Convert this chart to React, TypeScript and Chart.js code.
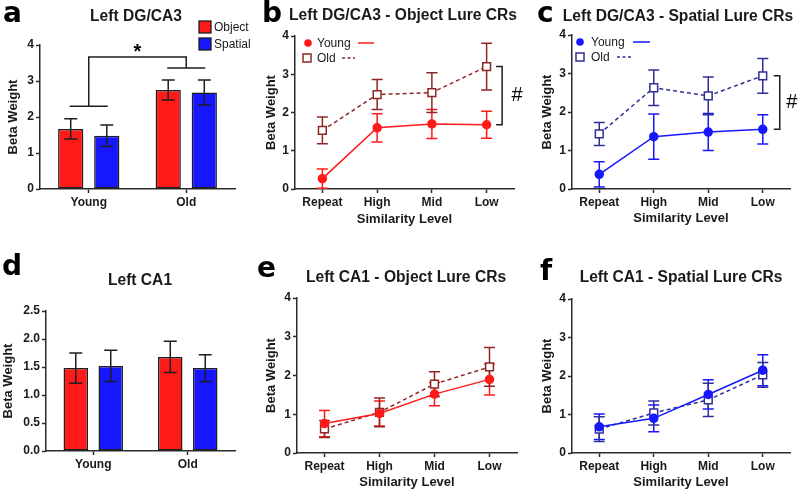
import React, { useEffect, useRef } from 'react';
import { Chart, registerables } from 'chart.js';

Chart.register(...registerables);

const FONT = "'Liberation Sans', Arial, Helvetica, sans-serif";
const LETTER_FONT = "'DejaVu Sans', 'Liberation Sans', sans-serif";
const AXIS = '#2b2b2b';
const TXT = '#1a1a1a';
const RED = '#ff1a1a';
const DARK_RED = '#8f2626';
const BLUE = '#1717ff';
const DARK_BLUE = '#2f2f98';
const ERR_BLACK = '#1e1e1e';

// ---------------- data ----------------
const groups = ['Young', 'Old'];
const similarityLevels = ['Repeat', 'High', 'Mid', 'Low'];

// (a) Left DG/CA3
const dgObject = [1.67, 2.75];
const dgObjectErr = [0.28, 0.28];
const dgSpatial = [1.48, 2.68];
const dgSpatialErr = [0.3, 0.35];
const dgSigYoung = 2.3;
const dgSigTop = 3.67;
const dgSigOld = 3.36;

// (b) Left DG/CA3 - Object Lure CRs
const dgObjYoung = [0.27, 1.6, 1.7, 1.68];
const dgObjYoungErr = [0.25, 0.37, 0.38, 0.35];
const dgObjOld = [1.53, 2.47, 2.52, 3.2];
const dgObjOldErr = [0.35, 0.39, 0.52, 0.61];

// (c) Left DG/CA3 - Spatial Lure CRs
const dgSpaYoung = [0.38, 1.36, 1.48, 1.55];
const dgSpaYoungErr = [0.33, 0.59, 0.48, 0.38];
const dgSpaOld = [1.43, 2.63, 2.42, 2.94];
const dgSpaOldErr = [0.3, 0.46, 0.49, 0.45];

// (d) Left CA1
const ca1Object = [1.48, 1.68];
const ca1ObjectErr = [0.27, 0.28];
const ca1Spatial = [1.52, 1.48];
const ca1SpatialErr = [0.28, 0.24];

// (e) Left CA1 - Object Lure CRs
const ca1ObjYoung = [0.76, 1.02, 1.52, 1.9];
const ca1ObjYoungErr = [0.34, 0.32, 0.3, 0.4];
const ca1ObjOld = [0.62, 1.05, 1.78, 2.22];
const ca1ObjOldErr = [0.22, 0.37, 0.32, 0.5];

// (f) Left CA1 - Spatial Lure CRs
const ca1SpaYoung = [0.68, 0.9, 1.52, 2.15];
const ca1SpaYoungErr = [0.33, 0.35, 0.38, 0.4];
const ca1SpaOld = [0.62, 1.04, 1.38, 2.03];
const ca1SpaOldErr = [0.32, 0.31, 0.43, 0.32];

// ---------------- types ----------------
type Series = {
  label: string;
  data: number[];
  err: number[];
  color: string;
  errColor: string;
  dashed?: boolean;
  marker?: 'circle' | 'square';
};

type BoxLegend = { x: number; y: number; size: number; color: string; text: string }[];
type LineLegend = {
  marker: 'circle' | 'square';
  mx: number;
  my: number;
  tx: number;
  l0: number;
  l1: number;
  dashed: boolean;
  color: string;
  text: string;
}[];

type PanelSpec = {
  kind: 'bar' | 'line';
  cell: { x: number; y: number; w: number; h: number };
  area: { l: number; r: number; t: number; b: number };
  yTitleX: number;
  xTitleY?: number;
  yMax: number;
  yStep: number;
  yDecimals: number;
  labels: string[];
  letter: { text: string; x: number; y: number };
  title: { text: string; x: number; y: number };
  series: Series[];
  cap: number;
  boxLegend?: BoxLegend;
  lineLegend?: LineLegend;
  barSig?: { young: number; top: number; old: number; halfWidth: number };
  hashBracket?: { upper: number; lower: number; index: number; dx: number; tick: number; hashDx: number };
};

// ---------------- panels ----------------
const panels: PanelSpec[] = [
  {
    kind: 'bar',
    cell: { x: 0, y: 0, w: 262, h: 245 },
    area: { l: 40, r: 235, t: 45, b: 189 },
    yTitleX: 13,
    yMax: 4,
    yStep: 1,
    yDecimals: 0,
    labels: groups,
    letter: { text: 'a', x: 3, y: 22 },
    title: { text: 'Left DG/CA3', x: 136, y: 21 },
    series: [
      { label: 'Object', data: dgObject, err: dgObjectErr, color: RED, errColor: ERR_BLACK },
      { label: 'Spatial', data: dgSpatial, err: dgSpatialErr, color: BLUE, errColor: ERR_BLACK },
    ],
    cap: 13,
    boxLegend: [
      { x: 199, y: 21, size: 12, color: RED, text: 'Object' },
      { x: 199, y: 38, size: 12, color: BLUE, text: 'Spatial' },
    ],
    barSig: { young: dgSigYoung, top: dgSigTop, old: dgSigOld, halfWidth: 19 },
  },
  {
    kind: 'line',
    cell: { x: 262, y: 0, w: 265, h: 245 },
    area: { l: 295, r: 514, t: 36, b: 189 },
    yTitleX: 271,
    xTitleY: 219,
    yMax: 4,
    yStep: 1,
    yDecimals: 0,
    labels: similarityLevels,
    letter: { text: 'b', x: 262, y: 22 },
    title: { text: 'Left DG/CA3 - Object Lure CRs', x: 403, y: 20 },
    series: [
      { label: 'Young', data: dgObjYoung, err: dgObjYoungErr, color: RED, errColor: RED, marker: 'circle' },
      { label: 'Old', data: dgObjOld, err: dgObjOldErr, color: DARK_RED, errColor: DARK_RED, dashed: true, marker: 'square' },
    ],
    cap: 11,
    lineLegend: [
      { marker: 'circle', mx: 308, my: 43, tx: 317, l0: 358, l1: 374, dashed: false, color: RED, text: 'Young' },
      { marker: 'square', mx: 307, my: 58, tx: 317, l0: 342, l1: 355, dashed: true, color: DARK_RED, text: 'Old' },
    ],
    hashBracket: { upper: 1, lower: 0, index: 3, dx: 15.5, tick: 6, hashDx: 15 },
  },
  {
    kind: 'line',
    cell: { x: 527, y: 0, w: 273, h: 245 },
    area: { l: 572, r: 790, t: 35, b: 189 },
    yTitleX: 547,
    xTitleY: 218,
    yMax: 4,
    yStep: 1,
    yDecimals: 0,
    labels: similarityLevels,
    letter: { text: 'c', x: 537, y: 22 },
    title: { text: 'Left DG/CA3 - Spatial Lure CRs', x: 678, y: 21 },
    series: [
      { label: 'Young', data: dgSpaYoung, err: dgSpaYoungErr, color: BLUE, errColor: BLUE, marker: 'circle' },
      { label: 'Old', data: dgSpaOld, err: dgSpaOldErr, color: DARK_BLUE, errColor: DARK_BLUE, dashed: true, marker: 'square' },
    ],
    cap: 11,
    lineLegend: [
      { marker: 'circle', mx: 580, my: 42, tx: 591, l0: 633, l1: 650, dashed: false, color: BLUE, text: 'Young' },
      { marker: 'square', mx: 580, my: 57, tx: 591, l0: 617, l1: 632, dashed: true, color: DARK_BLUE, text: 'Old' },
    ],
    hashBracket: { upper: 1, lower: 0, index: 3, dx: 17, tick: 6, hashDx: 12 },
  },
  {
    kind: 'bar',
    cell: { x: 0, y: 245, w: 255, h: 245 },
    area: { l: 46, r: 235, t: 311, b: 451 },
    yTitleX: 8,
    yMax: 2.5,
    yStep: 0.5,
    yDecimals: 1,
    labels: groups,
    letter: { text: 'd', x: 2, y: 275 },
    title: { text: 'Left CA1', x: 140, y: 285 },
    series: [
      { label: 'Object', data: ca1Object, err: ca1ObjectErr, color: RED, errColor: ERR_BLACK },
      { label: 'Spatial', data: ca1Spatial, err: ca1SpatialErr, color: BLUE, errColor: ERR_BLACK },
    ],
    cap: 13,
  },
  {
    kind: 'line',
    cell: { x: 255, y: 245, w: 272, h: 245 },
    area: { l: 297, r: 517, t: 298, b: 453 },
    yTitleX: 271,
    xTitleY: 482,
    yMax: 4,
    yStep: 1,
    yDecimals: 0,
    labels: similarityLevels,
    letter: { text: 'e', x: 257, y: 277 },
    title: { text: 'Left CA1 - Object Lure CRs', x: 406, y: 282 },
    series: [
      { label: 'Young', data: ca1ObjYoung, err: ca1ObjYoungErr, color: RED, errColor: RED, marker: 'circle' },
      { label: 'Old', data: ca1ObjOld, err: ca1ObjOldErr, color: DARK_RED, errColor: DARK_RED, dashed: true, marker: 'square' },
    ],
    cap: 11,
  },
  {
    kind: 'line',
    cell: { x: 527, y: 245, w: 273, h: 245 },
    area: { l: 572, r: 790, t: 299, b: 453 },
    yTitleX: 547,
    xTitleY: 482,
    yMax: 4,
    yStep: 1,
    yDecimals: 0,
    labels: similarityLevels,
    letter: { text: 'f', x: 540, y: 280 },
    title: { text: 'Left CA1 - Spatial Lure CRs', x: 681, y: 282 },
    series: [
      { label: 'Young', data: ca1SpaYoung, err: ca1SpaYoungErr, color: BLUE, errColor: BLUE, marker: 'circle' },
      { label: 'Old', data: ca1SpaOld, err: ca1SpaOldErr, color: DARK_BLUE, errColor: DARK_BLUE, dashed: true, marker: 'square' },
    ],
    cap: 11,
  },
];

// ---------------- drawing helpers ----------------
function drawErrors(chart: any, spec: PanelSpec) {
  const ctx: CanvasRenderingContext2D = chart.ctx;
  const y = chart.scales.y;
  spec.series.forEach((s, i) => {
    const meta = chart.getDatasetMeta(i);
    ctx.save();
    ctx.strokeStyle = s.errColor;
    ctx.lineWidth = 1.5;
    ctx.setLineDash([]);
    meta.data.forEach((el: any, j: number) => {
      const x = el.x;
      const v = s.data[j];
      const e = s.err[j];
      const yt = y.getPixelForValue(v + e);
      const yb = y.getPixelForValue(Math.max(0, v - e));
      const hw = spec.cap / 2;
      ctx.beginPath();
      ctx.moveTo(x, yt);
      ctx.lineTo(x, yb);
      ctx.moveTo(x - hw, yt);
      ctx.lineTo(x + hw, yt);
      ctx.moveTo(x - hw, yb);
      ctx.lineTo(x + hw, yb);
      ctx.stroke();
    });
    ctx.restore();
  });
}

function drawDecor(chart: any, spec: PanelSpec) {
  const ctx: CanvasRenderingContext2D = chart.ctx;
  const ox = spec.cell.x;
  const oy = spec.cell.y;
  const yScale = chart.scales.y;
  ctx.save();
  ctx.setLineDash([]);

  // panel letter
  ctx.fillStyle = '#000';
  ctx.textAlign = 'left';
  ctx.textBaseline = 'alphabetic';
  ctx.font = `bold 28px ${LETTER_FONT}`;
  ctx.fillText(spec.letter.text, spec.letter.x - ox, spec.letter.y - oy);

  // title
  ctx.textAlign = 'center';
  ctx.font = `bold 15.6px ${FONT}`;
  ctx.fillStyle = TXT;
  ctx.fillText(spec.title.text, spec.title.x - ox, spec.title.y - oy);

  // box legend
  if (spec.boxLegend) {
    ctx.font = `12px ${FONT}`;
    ctx.textAlign = 'left';
    ctx.textBaseline = 'middle';
    spec.boxLegend.forEach((it) => {
      ctx.fillStyle = it.color;
      ctx.fillRect(it.x - ox, it.y - oy, it.size, it.size);
      ctx.strokeStyle = ERR_BLACK;
      ctx.lineWidth = 1.3;
      ctx.strokeRect(it.x - ox, it.y - oy, it.size, it.size);
      ctx.fillStyle = TXT;
      ctx.fillText(it.text, it.x - ox + it.size + 3, it.y - oy + it.size / 2 + 0.5);
    });
  }

  // line legend
  if (spec.lineLegend) {
    ctx.font = `12px ${FONT}`;
    ctx.textAlign = 'left';
    ctx.textBaseline = 'middle';
    spec.lineLegend.forEach((it) => {
      const mx = it.mx - ox;
      const my = it.my - oy;
      ctx.lineWidth = 1.5;
      ctx.strokeStyle = it.color;
      ctx.fillStyle = it.color;
      if (it.marker === 'circle') {
        ctx.beginPath();
        ctx.arc(mx, my, 3.8, 0, Math.PI * 2);
        ctx.fill();
      } else {
        ctx.fillStyle = '#fff';
        ctx.fillRect(mx - 4, my - 4, 8, 8);
        ctx.strokeRect(mx - 4, my - 4, 8, 8);
      }
      ctx.fillStyle = TXT;
      ctx.fillText(it.text, it.tx - ox, my + 0.5);
      ctx.beginPath();
      ctx.setLineDash(it.dashed ? [3, 2.5] : []);
      ctx.moveTo(it.l0 - ox, my);
      ctx.lineTo(it.l1 - ox, my);
      ctx.stroke();
      ctx.setLineDash([]);
    });
  }

  // significance bracket for bar chart
  if (spec.barSig) {
    const m0 = chart.getDatasetMeta(0);
    const m1 = chart.getDatasetMeta(1);
    const c0 = (m0.data[0].x + m1.data[0].x) / 2;
    const c1 = (m0.data[1].x + m1.data[1].x) / 2;
    const yY = yScale.getPixelForValue(spec.barSig.young);
    const yT = yScale.getPixelForValue(spec.barSig.top);
    const yO = yScale.getPixelForValue(spec.barSig.old);
    const hw = spec.barSig.halfWidth;
    ctx.strokeStyle = ERR_BLACK;
    ctx.lineWidth = 1.5;
    ctx.beginPath();
    ctx.moveTo(c0 - hw, yY);
    ctx.lineTo(c0 + hw, yY);
    ctx.moveTo(c0, yY);
    ctx.lineTo(c0, yT);
    ctx.lineTo(c1, yT);
    ctx.lineTo(c1, yO);
    ctx.moveTo(c1 - hw, yO);
    ctx.lineTo(c1 + hw, yO);
    ctx.stroke();
    ctx.fillStyle = '#000';
    ctx.textAlign = 'center';
    ctx.textBaseline = 'alphabetic';
    ctx.font = `bold 20px ${FONT}`;
    ctx.fillText('*', (c0 + c1) / 2, yT + 1);
  }

  // "#" bracket for line charts
  if (spec.hashBracket) {
    const hb = spec.hashBracket;
    const up = chart.getDatasetMeta(hb.upper).data[hb.index];
    const lo = chart.getDatasetMeta(hb.lower).data[hb.index];
    const xv = up.x + hb.dx;
    ctx.strokeStyle = ERR_BLACK;
    ctx.lineWidth = 1.5;
    ctx.beginPath();
    ctx.moveTo(xv - hb.tick, up.y);
    ctx.lineTo(xv, up.y);
    ctx.lineTo(xv, lo.y);
    ctx.lineTo(xv - hb.tick, lo.y);
    ctx.stroke();
    ctx.fillStyle = '#000';
    ctx.textAlign = 'center';
    ctx.textBaseline = 'middle';
    ctx.font = `20px ${FONT}`;
    ctx.fillText('#', xv + hb.hashDx, (up.y + lo.y) / 2);
  }
  ctx.restore();
}

function buildConfig(spec: PanelSpec): any {
  const LH = 13 * 1.2;
  const padLeft = spec.yTitleX - LH / 2 - spec.cell.x;
  const yWidth = spec.area.l - spec.cell.x - padLeft;
  const xHeight = spec.xTitleY !== undefined ? spec.xTitleY + LH / 2 - spec.area.b : 26;
  const padding = {
    left: padLeft,
    right: spec.cell.x + spec.cell.w - spec.area.r,
    top: spec.area.t - spec.cell.y,
    bottom: spec.cell.y + spec.cell.h - spec.area.b - xHeight,
  };

  const datasets = spec.series.map((s) =>
    spec.kind === 'bar'
      ? {
          label: s.label,
          data: s.data,
          backgroundColor: s.color,
          borderColor: ERR_BLACK,
          borderWidth: 1.5,
          borderSkipped: false,
          categoryPercentage: 0.74,
          barPercentage: 0.7,
        }
      : {
          label: s.label,
          data: s.data,
          borderColor: s.color,
          backgroundColor: s.color,
          borderWidth: 1.5,
          borderDash: s.dashed ? [4, 3] : [],
          pointStyle: s.marker === 'square' ? 'rect' : 'circle',
          pointRadius: s.marker === 'square' ? 5.5 : 4,
          pointBackgroundColor: s.marker === 'square' ? '#ffffff' : s.color,
          pointBorderColor: s.color,
          pointBorderWidth: 1.5,
          tension: 0,
          fill: false,
        }
  );

  const tickFont = { family: FONT, size: 12, weight: 'bold' as const };
  const titleFont = { family: FONT, size: 13, weight: 'bold' as const };

  const decor = {
    id: 'decor',
    beforeDatasetsDraw(chart: any) {
      if (spec.kind === 'line') drawErrors(chart, spec);
    },
    afterDatasetsDraw(chart: any) {
      if (spec.kind === 'bar') drawErrors(chart, spec);
    },
    afterDraw(chart: any) {
      drawDecor(chart, spec);
    },
  };

  return {
    type: spec.kind,
    data: { labels: spec.labels, datasets },
    plugins: [decor],
    options: {
      responsive: false,
      maintainAspectRatio: false,
      animation: false,
      devicePixelRatio: 1,
      layout: { padding },
      plugins: {
        legend: { display: false },
        tooltip: { enabled: false },
        title: { display: false },
      },
      scales: {
        x: {
          type: 'category',
          offset: true,
          grid: {
            display: true,
            drawOnChartArea: false,
            drawTicks: true,
            tickLength: 4,
            tickWidth: 1.5,
            tickColor: AXIS,
            offset: false,
          },
          border: { display: true, color: AXIS, width: 1.5 },
          ticks: { color: TXT, padding: 2, font: tickFont, maxRotation: 0, autoSkip: false },
          title:
            spec.xTitleY !== undefined
              ? { display: true, text: 'Similarity Level', color: TXT, padding: 0, font: titleFont }
              : { display: false },
          afterFit: (s: any) => {
            s.height = xHeight;
          },
        },
        y: {
          type: 'linear',
          min: 0,
          max: spec.yMax,
          grid: {
            display: true,
            drawOnChartArea: false,
            drawTicks: true,
            tickLength: 4,
            tickWidth: 1.5,
            tickColor: AXIS,
          },
          border: { display: true, color: AXIS, width: 1.5 },
          ticks: {
            stepSize: spec.yStep,
            color: TXT,
            padding: 2,
            font: tickFont,
            callback: (v: any) => Number(v).toFixed(spec.yDecimals),
          },
          title: { display: true, text: 'Beta Weight', color: TXT, padding: 0, font: titleFont },
          afterFit: (s: any) => {
            s.width = yWidth;
          },
        },
      },
    },
  };
}

function Panel({ spec }: { spec: PanelSpec }) {
  const ref = useRef<HTMLCanvasElement>(null);
  useEffect(() => {
    const canvas = ref.current;
    if (!canvas) return;
    const chart = new Chart(canvas, buildConfig(spec));
    return () => chart.destroy();
  }, [spec]);
  return (
    <canvas
      ref={ref}
      width={spec.cell.w}
      height={spec.cell.h}
      style={{
        position: 'absolute',
        left: spec.cell.x,
        top: spec.cell.y,
        width: spec.cell.w,
        height: spec.cell.h,
      }}
    />
  );
}

export default function App() {
  return (
    <div
      style={{
        position: 'fixed',
        left: 0,
        top: 0,
        width: 800,
        height: 490,
        background: '#ffffff',
        overflow: 'hidden',
      }}
    >
      {panels.map((p, i) => (
        <Panel key={i} spec={p} />
      ))}
    </div>
  );
}
